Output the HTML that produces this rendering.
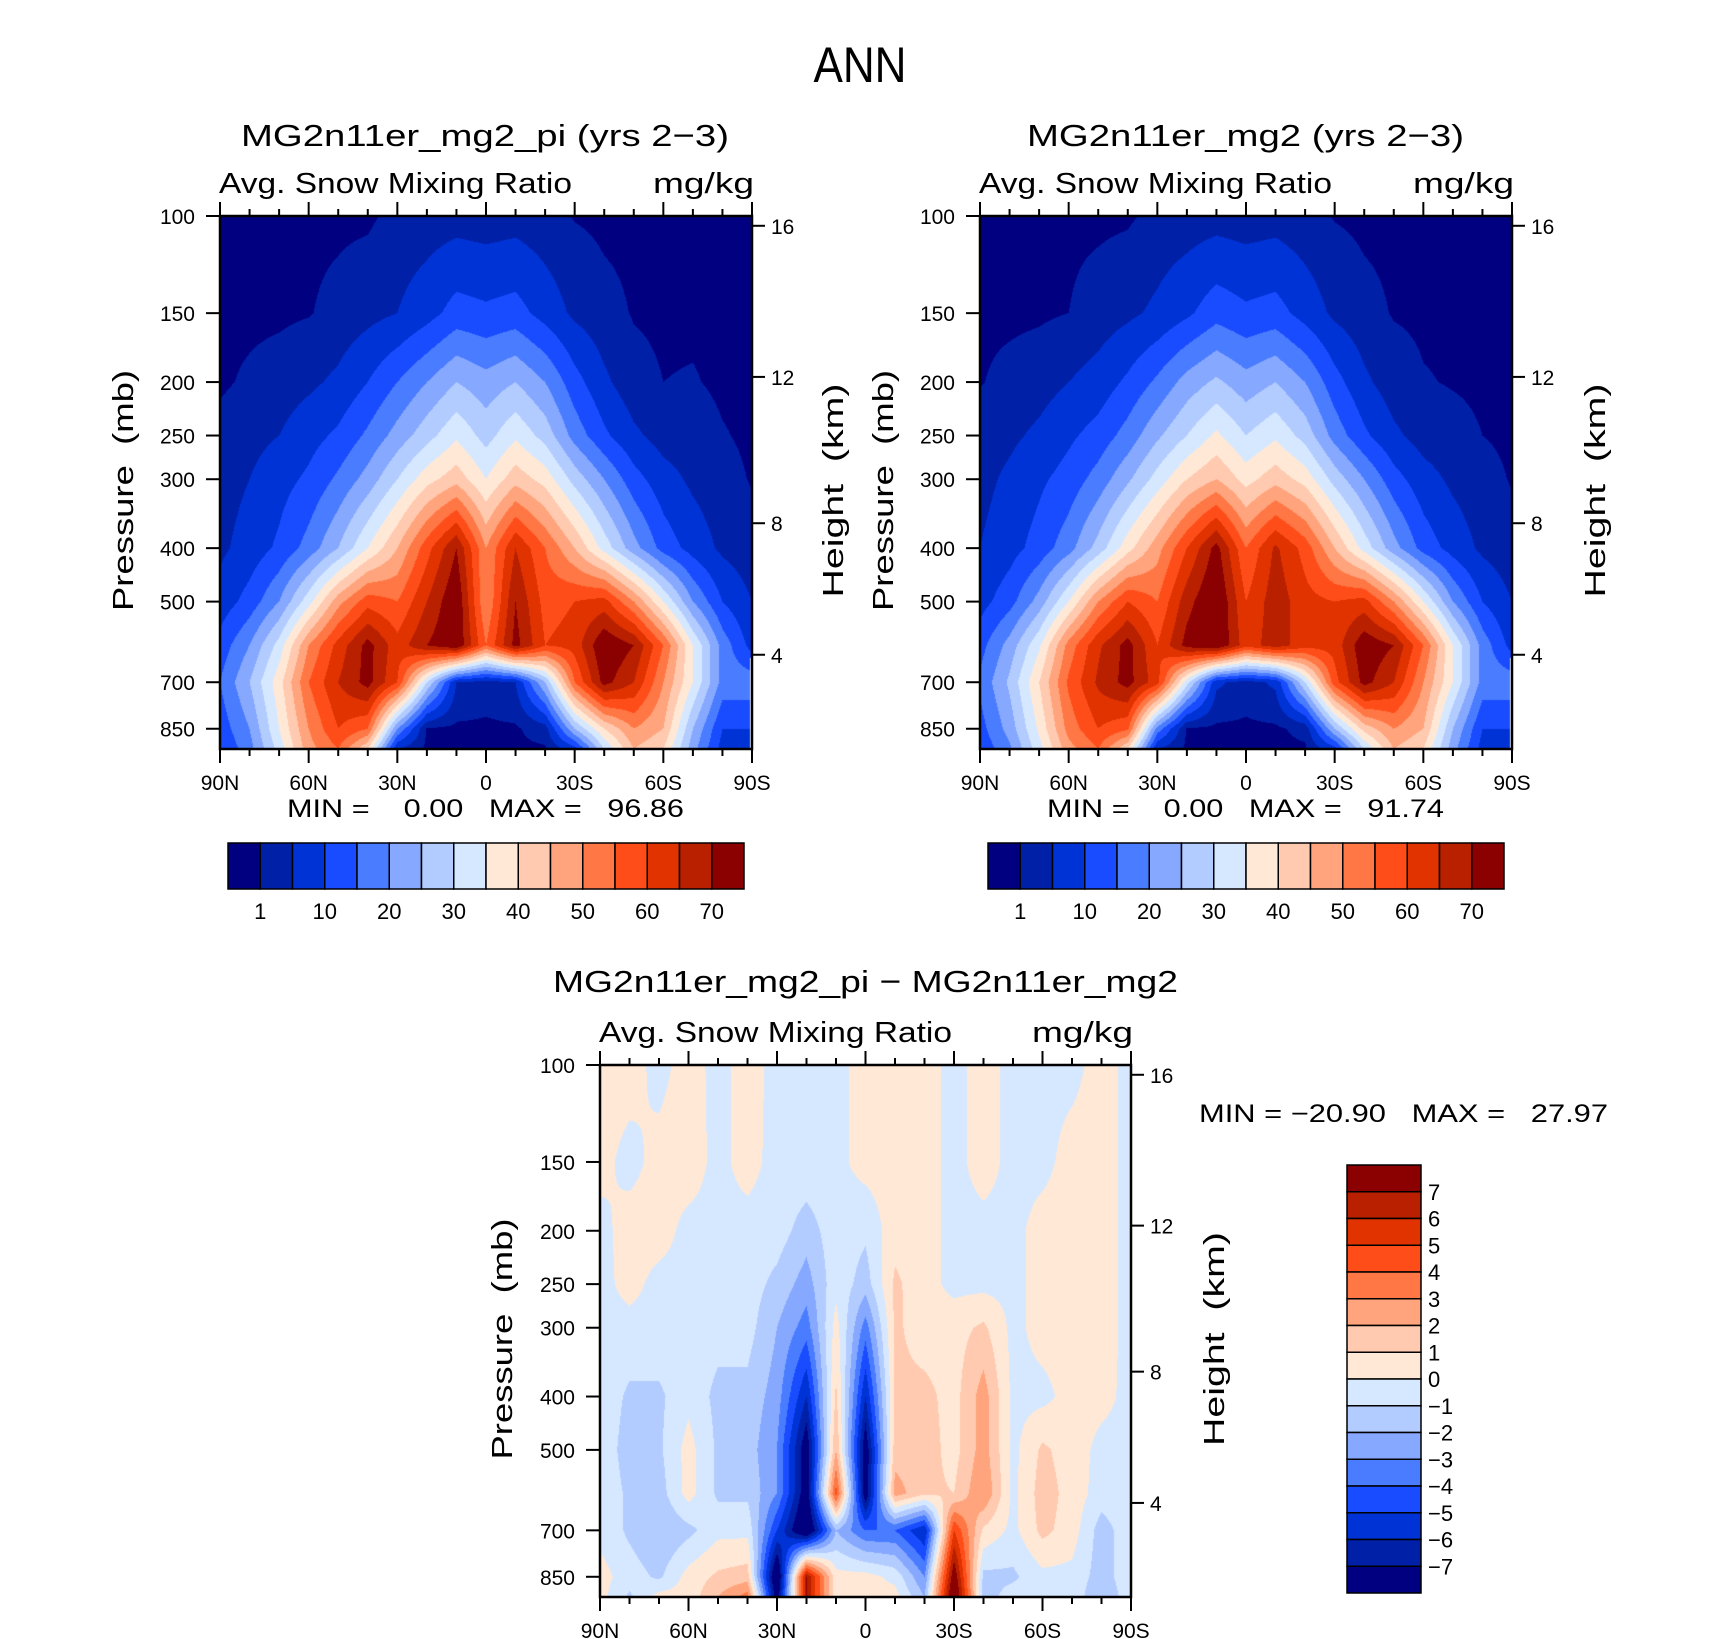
<!DOCTYPE html>
<html><head><meta charset="utf-8">
<style>
html,body{margin:0;padding:0;background:#fff;}
#wrap{position:relative;width:1710px;height:1639px;overflow:hidden;background:#fff;}
canvas{position:absolute;}
svg{position:absolute;left:0;top:0;}
text{font-family:"Liberation Sans",sans-serif;fill:#000;}
</style></head>
<body>
<div id="wrap">
<canvas id="cL" width="532" height="533" style="left:220px;top:216px"></canvas>
<canvas id="cR" width="532" height="533" style="left:980px;top:216px"></canvas>
<canvas id="cD" width="531" height="532" style="left:600px;top:1065px"></canvas>
<svg id="svg" width="1710" height="1639" xmlns="http://www.w3.org/2000/svg">
<text x="860" y="82" font-size="50" text-anchor="middle" textLength="93" lengthAdjust="spacingAndGlyphs">ANN</text>
</svg>
</div>
<script>
// ---- data ----
const LATS = [90,80,70,60,50,40,30,20,10,0,-10,-20,-30,-40,-50,-60,-70,-80,-90];
const LEVS = [100,150,200,250,300,400,500,600,700,850,925];
const LEVELS_TOP = [1,5,10,15,20,25,30,35,40,45,50,55,60,65,70];
const LEVELS_DIFF = [-7,-6,-5,-4,-3,-2,-1,0,1,2,3,4,5,6,7];
const CB_TOP_LABELS = ['1','10','20','30','40','50','60','70'];
const CB_DIFF_LABELS = ['7','6','5','4','3','2','1','0','\u22121','\u22122','\u22123','\u22124','\u22125','\u22126','\u22127'];
const X_LABELS = ['90N','60N','30N','0','30S','60S','90S'];
const X_TICK_LATS = [90,60,30,0,-30,-60,-90];
const P_TICKS = [100,150,200,250,300,400,500,700,850];
const Z_TICKS = [16,12,8,4];
const COLORS = ['#000080','#0020a8','#0033d6','#1a4cff','#4a7cff','#86a8ff','#b3ccff','#d6e8ff','#ffe8d6','#ffcab0','#ffa47c','#ff7744','#ff4d1a','#e03300','#b82000','#8b0000'];

const fieldLeft = [
 [0.3,0.3,0.3,0.3,0.3,0.4,2,2.5,3,2.5,3,2,0.8,0.3,0.3,0.3,0.3,0.3,0.2],
 [0.3,0.3,0.4,0.8,2,3.5,5,8,12,11,12,8,4,2,0.8,0.5,0.5,0.3,0.2],
 [0.5,1.5,2.5,4,6,10,15,20,25,22,25,20,12,6,2,1,1.2,0.5,0.3],
 [2,3.5,5,8,11,16,22,28,34,28,34,28,18,11,6,3,2.5,1.2,0.5],
 [3,5,8,11,16,22,30,38,43,35,43,38,28,20,12,7,4,2,0.8],
 [4,7,11,17,25,35,45,58,70,50,65,55,45,33,22,13,8,4,2],
 [7,12,20,33,48,58,55,65,75,50,70,58,60,62,50,35,20,10,5],
 [12,20,32,50,62,72,62,70,75,55,72,60,62,75,70,55,35,18,8],
 [15,25,38,55,65,72,60,30,5,3,5,25,55,72,65,50,35,18,null],
 [12,20,35,50,60,55,20,0.5,0.3,0.3,0.5,3,25,40,50,45,25,10,null],
 [10,18,32,48,55,40,5,0.3,0.2,0.2,0.3,0.5,8,30,45,40,22,8,null]
];
const fieldRight = [
 [0.3,0.3,0.3,0.3,0.3,0.5,2,2.5,3,2.5,3,2,0.8,0.3,0.3,0.3,0.3,0.3,0.2],
 [0.3,0.3,0.5,1,2.5,4,6,9,13,11,12,8,4,2,0.8,0.5,0.4,0.3,0.2],
 [0.8,2,3,5,7,11,16,22,26,22,25,20,12,6,2.5,1.2,0.8,0.5,0.3],
 [2.5,4,6,9,12,17,24,30,36,30,34,28,18,11,6,3,2,1,0.5],
 [3.5,6,9,12,17,24,32,40,45,38,43,38,28,20,12,7,4,2,0.8],
 [5,8,12,18,27,38,48,60,72,55,66,58,45,33,22,13,8,4,2],
 [8,13,22,35,50,60,55,68,76,60,68,62,60,62,50,35,20,10,5],
 [13,22,34,52,64,72,60,72,76,62,68,62,62,74,70,55,35,18,8],
 [16,26,40,56,66,72,62,32,6,3,6,30,58,72,65,50,35,18,null],
 [13,22,36,52,60,56,18,0.5,0.3,0.3,0.4,2,25,42,50,45,25,10,null],
 [11,19,33,48,55,40,5,0.3,0.2,0.2,0.3,0.5,8,30,45,40,22,8,null]
];
const fieldDiff = [
 [0.4,0.4,-0.3,0.4,-0.3,0.4,-0.3,-0.3,-0.3,0.4,0.4,0.4,-0.3,0.4,-0.3,-0.3,-0.3,0.4,-0.3],
 [0.3,-0.3,0.3,0.5,-0.3,0.4,-0.4,-0.3,-0.3,0.4,0.5,0.4,-0.3,0.4,-0.3,-0.3,0.4,0.4,-0.3],
 [-0.3,0.4,0.4,-0.3,-0.3,-0.4,-0.5,-1.5,-0.4,-0.8,0.6,0.4,-0.3,-0.3,-0.3,0.4,0.4,0.4,-0.3],
 [-0.3,0.3,-0.3,-0.3,-0.3,-0.5,-1.3,-2.5,-0.3,-1.5,1.2,0.4,-0.3,-0.3,-0.3,0.4,0.4,0.4,-0.3],
 [-0.3,-0.3,-0.3,-0.3,-0.6,-0.6,-2,-3.5,0.4,-3.5,1.2,0.5,0.6,1.2,-0.3,0.4,0.4,0.4,-0.3],
 [-0.3,-1.2,-1.2,-0.3,-1.3,-1.3,-2.5,-6,1.2,-6,1.2,1.3,0.6,2.5,-0.3,-0.3,0.4,0.3,-0.3],
 [-0.3,-1.5,-1.2,0.4,-1.2,-1.5,-3,-8,2,-8,1.5,1.5,0.6,2.5,-0.3,1.2,0.5,-0.3,-0.3],
 [-0.3,-1.2,-1.5,0.4,-1.2,-1.2,-3,-8,4.5,-8,2.5,1.2,1,3,-0.3,1.5,0.6,-0.5,-0.3],
 [-0.3,-1.2,-2,-1.3,-0.3,-0.3,-5,-9,-2,-4,-4,-6,5,0.8,-0.3,1.3,0.5,-1.5,-0.3],
 [0.4,-0.5,-1.2,0.4,1.2,1.5,-9,7,0.4,0.4,-0.3,-3,8,-1.3,-1.2,-0.3,-0.3,-1.5,-0.3],
 [0.4,-1.2,0.4,0.4,2,3.5,-8,7,0.4,0.4,0.4,-2,9,-1.5,-0.5,-0.3,-0.3,-2,-0.3]
];

// ---- axis functions ----
const PBOT = 925, PTOP = 100;
function yFrac(p){ return Math.log10(p/PTOP)/Math.log10(PBOT/PTOP); }
function xFrac(lat){ return (90-lat)/180; }
function pOfZ(z){ return z<=11 ? 1013.25*Math.pow(1-2.25577e-5*z*1000,5.25588) : 226.32*Math.exp(-(z-11)*1000/6341.6); }

function colorFor(v, levels){
  let i=0; while(i<levels.length && v>=levels[i]) i++;
  return COLORS[i];
}
function hexRgb(h){ return [parseInt(h.substr(1,2),16),parseInt(h.substr(3,2),16),parseInt(h.substr(5,2),16)]; }

function drawField(id, field, levels){
  const cv=document.getElementById(id), ctx=cv.getContext('2d');
  const W=cv.width,H=cv.height, img=ctx.createImageData(W,H);
  const lyr=LEVS.map(p=>Math.log10(p));
  const lb=Math.log10(PTOP), lt=Math.log10(PBOT);
  const fill=(r,c)=>{ let v=field[r][c]; if(v===null){ v=(c>0&&field[r][c-1]!==null)?field[r][c-1]:0;} return v; };
  for(let py=0;py<H;py++){
    const lp=lb+(py+0.5)/H*(lt-lb);
    let r=0; while(r<LEVS.length-2 && lp>lyr[r+1]) r++;
    let fy=(lp-lyr[r])/(lyr[r+1]-lyr[r]); fy=Math.max(0,Math.min(1,fy));
    for(let px=0;px<W;px++){
      const lat=90-(px+0.5)/W*180;
      let cx=(90-lat)/10; let c=Math.min(17,Math.floor(cx)); let fx=cx-c;
      const nr=fy<0.35?r:r+1, nc=fx<0.5?c:c+1;
      let col;
      if(field[nr][nc]===null && fx>0.93){ col=[255,255,255]; }
      else{
        const v=(1-fy)*((1-fx)*fill(r,c)+fx*fill(r,c+1))+fy*((1-fx)*fill(r+1,c)+fx*fill(r+1,c+1));
        col=hexRgb(colorFor(v,levels));
      }
      const k=(py*W+px)*4; img.data[k]=col[0];img.data[k+1]=col[1];img.data[k+2]=col[2];img.data[k+3]=255;
    }
  }
  ctx.putImageData(img,0,0);
}
drawField('cL',fieldLeft,LEVELS_TOP);
drawField('cR',fieldRight,LEVELS_TOP);
drawField('cD',fieldDiff,LEVELS_DIFF);

// ---- svg overlay ----
const svg=document.getElementById('svg');
const NS='http://www.w3.org/2000/svg';
function mk(tag,attrs,txt){ const e=document.createElementNS(NS,tag); for(const k in attrs) e.setAttribute(k,attrs[k]); if(txt!==undefined) e.textContent=txt; svg.appendChild(e); return e; }

function panel(px,py,W,H,pre,title,titleX,titleW,titleY,presX,htX){
  let e;
  e=mk('text',{x:titleX,y:titleY,'font-size':31,textLength:titleW,lengthAdjust:'spacingAndGlyphs'},title);
  
  
  e=mk('text',{x:px-1,y:py-23,'font-size':29,textLength:353,lengthAdjust:'spacingAndGlyphs'},'Avg. Snow Mixing Ratio');
  
  
  e=mk('text',{x:px+W+2,y:py-23,'font-size':29,'text-anchor':'end',textLength:101,lengthAdjust:'spacingAndGlyphs'},'mg/kg');
  
  
  e=mk('rect',{x:px,y:py,width:W,height:H,fill:'none',stroke:'#000','stroke-width':2.5});
  
  
  for(let lat=90;lat>=-90;lat-=10){
    const x=px+xFrac(lat)*W, major=(lat%30===0), L=major?14:7;
    e=mk('line',{x1:x,y1:py,x2:x,y2:py-L,stroke:'#000','stroke-width':2});
    
    
    e=mk('line',{x1:x,y1:py+H,x2:x,y2:py+H+L,stroke:'#000','stroke-width':2});
    
    
  }
  X_LABELS.forEach((lab,i)=>{
    const x=px+xFrac(X_TICK_LATS[i])*W;
    const t=mk('text',{x:x,y:py+H+41,'font-size':21,'text-anchor':'middle'},lab);
    
    
  });
  P_TICKS.forEach(p=>{
    const y=py+yFrac(p)*H;
    const l=mk('line',{x1:px,y1:y,x2:px-14,y2:y,stroke:'#000','stroke-width':2});
    
    
    const t=mk('text',{x:px-25,y:y+8,'font-size':21,'text-anchor':'end'},String(p));
    
    
  });
  Z_TICKS.forEach(z=>{
    const y=py+yFrac(pOfZ(z))*H+3;
    const l=mk('line',{x1:px+W,y1:y,x2:px+W+13,y2:y,stroke:'#000','stroke-width':2});
    
    
    const t=mk('text',{x:px+W+19,y:y+8,'font-size':21},String(z));
    
    
  });
  const cy=py+H*0.5+8;
  e=mk('text',{x:0,y:0,'font-size':29,'text-anchor':'middle',textLength:241,lengthAdjust:'spacingAndGlyphs',transform:`translate(${presX},${cy}) rotate(-90)`,style:'white-space:pre'},'Pressure  (mb)');
  
  
  e=mk('text',{x:0,y:0,'font-size':29,'text-anchor':'middle',textLength:214,lengthAdjust:'spacingAndGlyphs',transform:`translate(${htX},${cy}) rotate(-90)`,style:'white-space:pre'},'Height  (km)');
  
  
}
panel(220,216,532,533,'left','MG2n11er_mg2_pi (yrs 2\u22123)',241,488,146,133,843);
panel(980,216,532,533,'right','MG2n11er_mg2 (yrs 2\u22123)',1027,437,146,893,1605);
panel(600,1065,531,532,'diff','MG2n11er_mg2_pi \u2212 MG2n11er_mg2',553,625,992,512,1224);

function hbar(x0,y0,W,H,pre,minmax,mmx){
  const bw=W/COLORS.length;
  COLORS.forEach((c,i)=>{
    const r=mk('rect',{x:x0+i*bw,y:y0,width:bw,height:H,fill:c,stroke:'#000','stroke-width':1.5});
    
    
  });
  CB_TOP_LABELS.forEach((lab,i)=>{
    const t=mk('text',{x:x0+(1+2*i)*bw,y:y0+H+30,'font-size':22,'text-anchor':'middle'},lab);
    
    
  });
  const t=mk('text',{x:mmx,y:y0-26,'font-size':25,textLength:397,lengthAdjust:'spacingAndGlyphs',style:'white-space:pre'},minmax);
  
  
}
hbar(228,843,516,46,'left','MIN =    0.00   MAX =   96.86',287);
hbar(988,843,516,46,'right','MIN =    0.00   MAX =   91.74',1047);

(function(){
  const x0=1347,y0=1165,W=74,H=428,bh=H/COLORS.length;
  for(let i=0;i<COLORS.length;i++){
    const r=mk('rect',{x:x0,y:y0+i*bh,width:W,height:bh,fill:COLORS[COLORS.length-1-i],stroke:'#000','stroke-width':1.5});
    
    
  }
  CB_DIFF_LABELS.forEach((lab,i)=>{
    const t=mk('text',{x:x0+W+7,y:y0+(i+1)*bh+8,'font-size':22},lab);
    
    
  });
  const t=mk('text',{x:1199,y:1122,'font-size':25,textLength:409,lengthAdjust:'spacingAndGlyphs',style:'white-space:pre'},'MIN = \u221220.90   MAX =   27.97');
  
  
})();
</script>
</body></html>
